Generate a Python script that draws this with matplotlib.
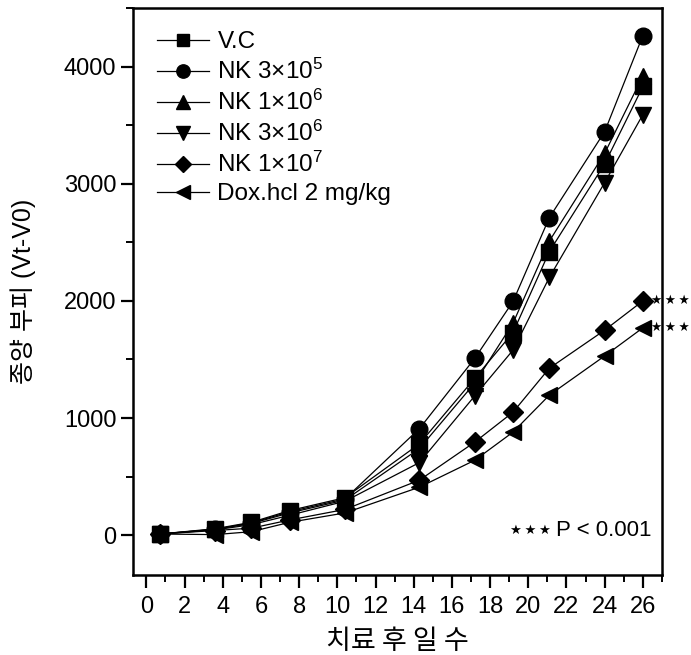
import numpy as np
import matplotlib.pyplot as plt
from matplotlib.ticker import MultipleLocator

plt.rcParams['font.family'] = ['Liberation Sans', 'Noto Sans CJK KR', 'DejaVu Sans']
plt.rcParams['mathtext.fontset'] = 'custom'
plt.rcParams['mathtext.rm'] = 'Liberation Sans'
plt.rcParams['mathtext.it'] = 'Liberation Sans'

# days after treatment
days = [0.7, 3.6, 5.5, 7.5, 10.4, 14.3, 17.2, 19.2, 21.1, 24.0, 26.0]

vc = [10, 55, 110, 210, 320, 780, 1340, 1730, 2420, 3170, 3830]
nk_3e5 = [10, 50, 105, 200, 310, 910, 1510, 1995, 2710, 3445, 4265]
nk_1e6 = [10, 50, 100, 190, 300, 740, 1300, 1810, 2510, 3260, 3920]
nk_3e6 = [10, 45, 90, 170, 290, 620, 1190, 1580, 2200, 3010, 3590]
nk_1e7 = [10, 40, 60, 130, 220, 470, 795, 1050, 1425, 1750, 2000]
dox = [10, 5, 30, 110, 190, 410, 640, 880, 1195, 1530, 1770]

labels = ['V.C', 'NK 3×10$^{5}$', 'NK 1×10$^{6}$', 'NK 3×10$^{6}$',
          'NK 1×10$^{7}$', 'Dox.hcl 2 mg/kg']
series = [vc, nk_3e5, nk_1e6, nk_3e6, nk_1e7, dox]
markers = ['s', 'o', '^', 'v', 'D', '<']
sizes = [11, 12, 12, 12, 10, 12]

fig = plt.figure(figsize=(6.91, 6.55), dpi=100)
ax = fig.add_axes([0.1925, 0.1221, 0.7655, 0.8657])

for vals, lab, m, ms in zip(series, labels, markers, sizes):
    ax.plot(days, vals, color='black', lw=0.9, marker=m, ms=ms,
            markerfacecolor='black', markeredgecolor='black', label=lab)

ax.set_xlim(-0.7, 27.0)
ax.set_ylim(-340, 4500)
ax.xaxis.set_major_locator(MultipleLocator(2))
ax.xaxis.set_minor_locator(MultipleLocator(1))
ax.yaxis.set_major_locator(MultipleLocator(1000))
ax.yaxis.set_minor_locator(MultipleLocator(500))

for s in ax.spines.values():
    s.set_linewidth(1.8)
ax.tick_params(which='major', direction='out', length=9, width=1.6)
ax.tick_params(which='minor', direction='out', length=5, width=1.4)
ax.tick_params(axis='y', labelsize=17, pad=3)
ax.tick_params(axis='x', labelsize=17, pad=6)

ax.set_xlabel('치료 후 일 수', fontsize=19.5, family=['Noto Sans CJK KR'], labelpad=7)
ax.set_ylabel('종양 부피 (Vt-V0)', fontsize=18, family=['Liberation Sans', 'Noto Sans CJK KR'],
              labelpad=20)

# significance marks
stars = '★\u2009★\u2009★'
star_kw = dict(fontsize=9, va='center', ha='left', family=['DejaVu Sans'], clip_on=False)
ax.text(26.42, nk_1e7[-1], stars, **star_kw)
ax.text(26.4, dox[-1], stars, **star_kw)
ax.text(0.79, 0.078, stars, transform=ax.transAxes, fontsize=9.5,
        ha='right', va='center', family=['DejaVu Sans'])
ax.text(0.981, 0.078, 'P < 0.001', transform=ax.transAxes, fontsize=16,
        ha='right', va='center')

ax.legend(loc='upper left', bbox_to_anchor=(0.018, 0.985), frameon=False, fontsize=17.5,
          handlelength=2.15, handletextpad=0.33, labelspacing=0.24, markerscale=0.8,
          borderaxespad=0.2)

fig.savefig('out.png', dpi=100)
